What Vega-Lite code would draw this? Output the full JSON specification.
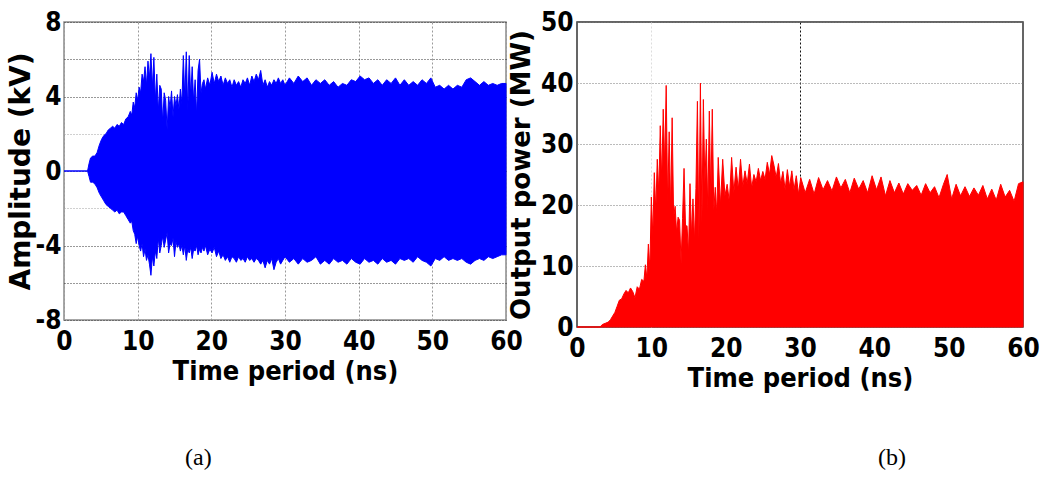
{
  "$schema": "https://vega.github.io/schema/vega-lite/v6.json",
  "background": "white",
  "padding": {"left": 6, "top": 8, "right": 0, "bottom": 0},
  "bounds": "flush",
  "spacing": 71,
  "config": {
    "axis": {
      "labelFont": "DejaVu Sans Condensed",
      "labelFontWeight": "bold",
      "labelFontSize": 26,
      "labelColor": "black",
      "titleColor": "black",
      "ticks": false,
      "domain": false,
      "labelFlush": false,
      "labelOverlap": false
    }
  },
  "datasets": {
    "amp": [
      {"t": 0, "hi": 0, "lo": 0}, {"t": 3.2, "hi": 0, "lo": 0},
      {"t": 3.4, "hi": 0.4, "lo": -0.3}, {"t": 3.6, "hi": 0.7, "lo": -0.6}, {"t": 3.9, "hi": 0.8, "lo": -0.6},
      {"t": 4.2, "hi": 0.8, "lo": -0.7}, {"t": 4.5, "hi": 1.0, "lo": -0.9}, {"t": 4.8, "hi": 1.4, "lo": -1.2},
      {"t": 5.1, "hi": 1.7, "lo": -1.4}, {"t": 5.4, "hi": 1.9, "lo": -1.6}, {"t": 5.7, "hi": 2.0, "lo": -1.8},
      {"t": 6.0, "hi": 2.2, "lo": -1.9}, {"t": 6.3, "hi": 2.3, "lo": -2.0}, {"t": 6.6, "hi": 2.4, "lo": -2.1},
      {"t": 6.9, "hi": 2.3, "lo": -2.2}, {"t": 7.2, "hi": 2.5, "lo": -2.1}, {"t": 7.5, "hi": 2.4, "lo": -2.3},
      {"t": 7.8, "hi": 2.6, "lo": -2.2}, {"t": 8.1, "hi": 2.5, "lo": -2.2}, {"t": 8.4, "hi": 2.8, "lo": -2.4},
      {"t": 8.7, "hi": 2.9, "lo": -2.6}, {"t": 9.0, "hi": 3.2, "lo": -2.8}, {"t": 9.2, "hi": 3.0, "lo": -2.7},
      {"t": 9.4, "hi": 3.7, "lo": -3.2}, {"t": 9.6, "hi": 3.4, "lo": -3.4}, {"t": 9.8, "hi": 4.2, "lo": -3.9},
      {"t": 10.0, "hi": 3.8, "lo": -3.5}, {"t": 10.2, "hi": 4.5, "lo": -4.0}, {"t": 10.4, "hi": 4.2, "lo": -4.3},
      {"t": 10.6, "hi": 5.2, "lo": -3.9}, {"t": 10.8, "hi": 4.8, "lo": -4.6}, {"t": 11.0, "hi": 5.6, "lo": -4.2},
      {"t": 11.2, "hi": 4.6, "lo": -4.8}, {"t": 11.4, "hi": 5.9, "lo": -4.5}, {"t": 11.6, "hi": 5.0, "lo": -5.0},
      {"t": 11.8, "hi": 6.3, "lo": -5.6}, {"t": 12.0, "hi": 4.5, "lo": -4.6}, {"t": 12.2, "hi": 6.1, "lo": -5.1},
      {"t": 12.4, "hi": 3.8, "lo": -4.3}, {"t": 12.6, "hi": 5.2, "lo": -4.7}, {"t": 12.8, "hi": 3.2, "lo": -3.6},
      {"t": 13.0, "hi": 4.6, "lo": -4.4}, {"t": 13.2, "hi": 4.4, "lo": -4.0}, {"t": 13.4, "hi": 2.6, "lo": -3.5},
      {"t": 13.6, "hi": 4.2, "lo": -4.1}, {"t": 13.8, "hi": 3.8, "lo": -3.7}, {"t": 14.0, "hi": 2.2, "lo": -3.3},
      {"t": 14.2, "hi": 4.0, "lo": -4.4}, {"t": 14.4, "hi": 3.4, "lo": -3.9}, {"t": 14.6, "hi": 4.3, "lo": -4.0},
      {"t": 14.8, "hi": 2.9, "lo": -3.6}, {"t": 15.0, "hi": 4.0, "lo": -4.6}, {"t": 15.2, "hi": 3.5, "lo": -3.8},
      {"t": 15.4, "hi": 4.1, "lo": -4.1}, {"t": 15.6, "hi": 3.3, "lo": -3.9}, {"t": 15.8, "hi": 4.4, "lo": -4.3},
      {"t": 16.0, "hi": 3.6, "lo": -4.0}, {"t": 16.2, "hi": 6.2, "lo": -4.5}, {"t": 16.4, "hi": 3.9, "lo": -4.0},
      {"t": 16.6, "hi": 6.4, "lo": -4.8}, {"t": 16.8, "hi": 3.2, "lo": -4.2}, {"t": 17.0, "hi": 6.2, "lo": -4.4},
      {"t": 17.2, "hi": 4.0, "lo": -4.1}, {"t": 17.4, "hi": 5.6, "lo": -4.7}, {"t": 17.6, "hi": 3.7, "lo": -4.2},
      {"t": 17.8, "hi": 4.9, "lo": -4.3}, {"t": 18.0, "hi": 3.0, "lo": -4.0}, {"t": 18.2, "hi": 5.4, "lo": -4.5},
      {"t": 18.4, "hi": 6.0, "lo": -4.2}, {"t": 18.6, "hi": 4.2, "lo": -4.4}, {"t": 18.8, "hi": 4.7, "lo": -4.1},
      {"t": 19.0, "hi": 4.9, "lo": -4.3}, {"t": 19.2, "hi": 4.4, "lo": -4.0}, {"t": 19.5, "hi": 5.0, "lo": -4.5},
      {"t": 19.8, "hi": 4.6, "lo": -4.2}, {"t": 20.1, "hi": 5.3, "lo": -4.4}, {"t": 20.4, "hi": 4.7, "lo": -4.1},
      {"t": 20.7, "hi": 5.2, "lo": -4.6}, {"t": 21.0, "hi": 4.8, "lo": -4.3}, {"t": 21.3, "hi": 5.1, "lo": -4.7},
      {"t": 21.6, "hi": 4.6, "lo": -4.5}, {"t": 21.9, "hi": 5.0, "lo": -4.8}, {"t": 22.2, "hi": 4.7, "lo": -4.6},
      {"t": 22.5, "hi": 4.9, "lo": -4.9}, {"t": 22.8, "hi": 4.5, "lo": -4.6}, {"t": 23.1, "hi": 4.9, "lo": -4.7},
      {"t": 23.4, "hi": 4.6, "lo": -4.9}, {"t": 23.7, "hi": 4.8, "lo": -4.6}, {"t": 24.0, "hi": 4.5, "lo": -4.8},
      {"t": 24.3, "hi": 4.9, "lo": -4.7}, {"t": 24.6, "hi": 4.7, "lo": -4.9}, {"t": 24.9, "hi": 5.0, "lo": -4.6},
      {"t": 25.2, "hi": 4.6, "lo": -4.8}, {"t": 25.5, "hi": 5.1, "lo": -4.7}, {"t": 25.8, "hi": 4.8, "lo": -4.9},
      {"t": 26.1, "hi": 5.2, "lo": -4.7}, {"t": 26.4, "hi": 4.9, "lo": -4.8}, {"t": 26.7, "hi": 5.4, "lo": -5.0},
      {"t": 27.0, "hi": 4.6, "lo": -4.8}, {"t": 27.3, "hi": 4.9, "lo": -5.2}, {"t": 27.6, "hi": 4.5, "lo": -4.8},
      {"t": 27.9, "hi": 4.8, "lo": -5.0}, {"t": 28.2, "hi": 4.6, "lo": -4.7}, {"t": 28.5, "hi": 4.9, "lo": -5.3},
      {"t": 28.8, "hi": 4.7, "lo": -4.9}, {"t": 29.1, "hi": 5.0, "lo": -4.7}, {"t": 29.4, "hi": 4.7, "lo": -5.0},
      {"t": 29.7, "hi": 4.9, "lo": -4.8}, {"t": 30.0, "hi": 4.6, "lo": -4.6}, {"t": 30.6, "hi": 5.0, "lo": -4.9},
      {"t": 31.2, "hi": 4.7, "lo": -4.7}, {"t": 31.8, "hi": 5.1, "lo": -5.0}, {"t": 32.4, "hi": 4.8, "lo": -4.7},
      {"t": 33.0, "hi": 5.0, "lo": -4.9}, {"t": 33.6, "hi": 4.6, "lo": -4.8}, {"t": 34.2, "hi": 4.9, "lo": -4.6},
      {"t": 34.8, "hi": 4.7, "lo": -5.0}, {"t": 35.4, "hi": 4.9, "lo": -4.8}, {"t": 36.0, "hi": 4.6, "lo": -5.0},
      {"t": 36.6, "hi": 4.8, "lo": -4.7}, {"t": 37.2, "hi": 4.5, "lo": -4.9}, {"t": 37.8, "hi": 4.7, "lo": -4.8},
      {"t": 38.4, "hi": 4.6, "lo": -5.0}, {"t": 39.0, "hi": 4.9, "lo": -4.7}, {"t": 39.6, "hi": 4.8, "lo": -4.9},
      {"t": 40.2, "hi": 5.1, "lo": -5.0}, {"t": 40.8, "hi": 4.9, "lo": -4.7}, {"t": 41.4, "hi": 5.0, "lo": -4.9},
      {"t": 42.0, "hi": 4.7, "lo": -4.8}, {"t": 42.6, "hi": 4.9, "lo": -5.0}, {"t": 43.2, "hi": 4.6, "lo": -4.7},
      {"t": 43.8, "hi": 4.9, "lo": -4.9}, {"t": 44.4, "hi": 4.7, "lo": -4.8}, {"t": 45.0, "hi": 5.0, "lo": -5.0},
      {"t": 45.6, "hi": 4.6, "lo": -4.7}, {"t": 46.2, "hi": 4.9, "lo": -4.8}, {"t": 46.8, "hi": 4.6, "lo": -4.7},
      {"t": 47.4, "hi": 4.8, "lo": -4.9}, {"t": 48.0, "hi": 4.6, "lo": -4.6}, {"t": 48.6, "hi": 4.9, "lo": -4.8},
      {"t": 49.2, "hi": 4.7, "lo": -4.9}, {"t": 49.8, "hi": 5.0, "lo": -5.1}, {"t": 50.4, "hi": 4.5, "lo": -4.7},
      {"t": 51.0, "hi": 4.6, "lo": -4.8}, {"t": 51.6, "hi": 4.4, "lo": -4.6}, {"t": 52.2, "hi": 4.6, "lo": -4.8},
      {"t": 52.8, "hi": 4.4, "lo": -4.7}, {"t": 53.4, "hi": 4.6, "lo": -4.8}, {"t": 54.0, "hi": 4.5, "lo": -4.7},
      {"t": 54.6, "hi": 4.9, "lo": -4.9}, {"t": 55.2, "hi": 5.0, "lo": -5.0}, {"t": 55.8, "hi": 4.8, "lo": -4.8},
      {"t": 56.4, "hi": 4.6, "lo": -4.7}, {"t": 57.0, "hi": 4.8, "lo": -4.8}, {"t": 57.6, "hi": 4.6, "lo": -4.6},
      {"t": 58.2, "hi": 4.7, "lo": -4.7}, {"t": 58.8, "hi": 4.6, "lo": -4.6}, {"t": 59.4, "hi": 4.7, "lo": -4.5},
      {"t": 60.0, "hi": 4.7, "lo": -4.5}
    ],
    "pow": [
      {"t": 0, "p": 0}, {"t": 3.1, "p": 0}, {"t": 3.4, "p": 0.4}, {"t": 3.8, "p": 0.6}, {"t": 4.2, "p": 0.8},
      {"t": 4.5, "p": 1.2}, {"t": 4.8, "p": 1.8}, {"t": 5.1, "p": 2.4}, {"t": 5.4, "p": 3.4}, {"t": 5.7, "p": 4.4},
      {"t": 6.0, "p": 4.6}, {"t": 6.3, "p": 5.4}, {"t": 6.6, "p": 6.0}, {"t": 6.9, "p": 5.6}, {"t": 7.2, "p": 6.4},
      {"t": 7.5, "p": 5.8}, {"t": 7.8, "p": 4.8}, {"t": 8.1, "p": 6.6}, {"t": 8.4, "p": 6.2}, {"t": 8.7, "p": 7.8},
      {"t": 9.0, "p": 7.5}, {"t": 9.2, "p": 10.2}, {"t": 9.4, "p": 8.0}, {"t": 9.6, "p": 13.6}, {"t": 9.8, "p": 9.5},
      {"t": 10.0, "p": 21.3}, {"t": 10.2, "p": 15.0}, {"t": 10.4, "p": 25.3}, {"t": 10.6, "p": 19.0}, {"t": 10.8, "p": 27.5},
      {"t": 11.0, "p": 22.0}, {"t": 11.2, "p": 33.0}, {"t": 11.4, "p": 24.0}, {"t": 11.6, "p": 35.7}, {"t": 11.8, "p": 26.5},
      {"t": 12.0, "p": 39.6}, {"t": 12.2, "p": 20.0}, {"t": 12.4, "p": 32.0}, {"t": 12.6, "p": 19.0}, {"t": 12.8, "p": 34.3},
      {"t": 13.0, "p": 18.0}, {"t": 13.2, "p": 19.8}, {"t": 13.4, "p": 15.5}, {"t": 13.6, "p": 18.0}, {"t": 13.8, "p": 17.5},
      {"t": 14.0, "p": 10.5}, {"t": 14.2, "p": 17.8}, {"t": 14.4, "p": 26.0}, {"t": 14.6, "p": 16.5}, {"t": 14.8, "p": 16.6},
      {"t": 15.0, "p": 12.0}, {"t": 15.2, "p": 23.5}, {"t": 15.4, "p": 15.0}, {"t": 15.6, "p": 21.0}, {"t": 15.8, "p": 14.0},
      {"t": 16.0, "p": 22.7}, {"t": 16.2, "p": 37.0}, {"t": 16.4, "p": 14.5}, {"t": 16.6, "p": 40.0}, {"t": 16.8, "p": 17.0},
      {"t": 17.0, "p": 37.3}, {"t": 17.2, "p": 23.4}, {"t": 17.4, "p": 30.8}, {"t": 17.6, "p": 19.0}, {"t": 17.8, "p": 35.4},
      {"t": 18.0, "p": 21.0}, {"t": 18.2, "p": 35.7}, {"t": 18.4, "p": 19.0}, {"t": 18.6, "p": 22.9}, {"t": 18.8, "p": 18.5},
      {"t": 19.0, "p": 27.8}, {"t": 19.3, "p": 20.0}, {"t": 19.6, "p": 27.5}, {"t": 19.9, "p": 21.5}, {"t": 20.2, "p": 23.4},
      {"t": 20.5, "p": 20.5}, {"t": 20.8, "p": 27.8}, {"t": 21.1, "p": 22.0}, {"t": 21.4, "p": 26.2}, {"t": 21.7, "p": 22.5},
      {"t": 22.0, "p": 27.5}, {"t": 22.3, "p": 23.0}, {"t": 22.6, "p": 25.6}, {"t": 22.9, "p": 23.5}, {"t": 23.2, "p": 26.7},
      {"t": 23.5, "p": 22.8}, {"t": 23.8, "p": 25.0}, {"t": 24.1, "p": 23.8}, {"t": 24.4, "p": 26.0}, {"t": 24.7, "p": 24.0},
      {"t": 25.0, "p": 25.5}, {"t": 25.3, "p": 24.2}, {"t": 25.6, "p": 27.0}, {"t": 25.9, "p": 25.0}, {"t": 26.2, "p": 28.1},
      {"t": 26.5, "p": 26.5}, {"t": 26.8, "p": 24.5}, {"t": 27.1, "p": 26.8}, {"t": 27.4, "p": 23.5}, {"t": 27.7, "p": 25.5},
      {"t": 28.0, "p": 22.5}, {"t": 28.3, "p": 25.8}, {"t": 28.6, "p": 23.0}, {"t": 28.9, "p": 25.6}, {"t": 29.2, "p": 22.5},
      {"t": 29.5, "p": 24.8}, {"t": 29.8, "p": 21.8}, {"t": 30.1, "p": 24.5}, {"t": 30.7, "p": 22.0}, {"t": 31.3, "p": 24.2},
      {"t": 31.9, "p": 21.8}, {"t": 32.5, "p": 24.5}, {"t": 33.1, "p": 22.5}, {"t": 33.7, "p": 24.0}, {"t": 34.3, "p": 22.3},
      {"t": 34.9, "p": 24.6}, {"t": 35.5, "p": 22.8}, {"t": 36.1, "p": 24.2}, {"t": 36.7, "p": 22.0}, {"t": 37.3, "p": 24.4},
      {"t": 37.9, "p": 22.6}, {"t": 38.5, "p": 24.0}, {"t": 39.1, "p": 22.0}, {"t": 39.7, "p": 24.8}, {"t": 40.3, "p": 22.5},
      {"t": 40.9, "p": 24.6}, {"t": 41.5, "p": 21.5}, {"t": 42.1, "p": 24.0}, {"t": 42.7, "p": 22.0}, {"t": 43.3, "p": 23.6},
      {"t": 43.9, "p": 21.8}, {"t": 44.5, "p": 23.5}, {"t": 45.1, "p": 22.4}, {"t": 45.7, "p": 23.2}, {"t": 46.3, "p": 21.6},
      {"t": 46.9, "p": 23.5}, {"t": 47.5, "p": 22.0}, {"t": 48.1, "p": 23.0}, {"t": 48.7, "p": 21.2}, {"t": 49.3, "p": 23.4},
      {"t": 49.8, "p": 25.0}, {"t": 50.4, "p": 21.0}, {"t": 51.0, "p": 23.4}, {"t": 51.6, "p": 21.5}, {"t": 52.2, "p": 23.0},
      {"t": 52.8, "p": 21.4}, {"t": 53.4, "p": 22.8}, {"t": 54.0, "p": 21.6}, {"t": 54.6, "p": 23.2}, {"t": 55.2, "p": 21.0},
      {"t": 55.8, "p": 22.6}, {"t": 56.4, "p": 20.8}, {"t": 57.0, "p": 23.4}, {"t": 57.6, "p": 21.3}, {"t": 58.2, "p": 22.4},
      {"t": 58.8, "p": 20.6}, {"t": 59.4, "p": 23.5}, {"t": 60.0, "p": 23.8}
    ]
  },
  "hconcat": [
    {
      "width": 442,
      "height": 298,
      "view": {"stroke": "#8a8a8a", "strokeWidth": 1.5},
      "title": {"text": "(a)", "orient": "bottom", "anchor": "start", "frame": "group", "dx": 121, "offset": 62, "font": "Liberation Serif", "fontSize": 24, "fontWeight": "normal", "color": "black"},
      "data": {"name": "amp"},
      "mark": {"type": "area", "color": "#0000ff", "stroke": "#0000ff", "strokeWidth": 1, "opacity": 1},
      "encoding": {
        "x": {"field": "t", "type": "quantitative", "scale": {"domain": [0, 60], "nice": false},
          "axis": {"values": [0, 10, 20, 30, 40, 50, 60], "title": "Time period (ns)", "titleFont": "DejaVu Sans Condensed", "titleFontWeight": "bold", "titleFontSize": 27, "titlePadding": 4, "labelPadding": 8,
            "gridDash": [2, 2], "gridColor": "#9a9a9a", "gridWidth": 1}},
        "y": {"field": "hi", "type": "quantitative", "scale": {"domain": [-8, 8], "nice": false},
          "axis": {"values": [-8, -6, -4, -2, 0, 2, 4, 6, 8], "labelExpr": "datum.value % 4 === 0 ? replace(datum.label, '\u2212', '-') : ''", "title": "Amplitude (kV)", "titleFont": "DejaVu Sans", "titleFontWeight": "bold", "titleFontSize": 28, "titlePadding": 0, "labelPadding": 3,
            "gridDash": [1, 2], "gridWidth": 1,
            "gridColor": {"condition": {"test": "abs(datum.value) === 2", "value": "#a0a0a0"}, "value": "#333333"}}},
        "y2": {"field": "lo"}
      }
    },
    {
      "width": 446,
      "height": 305,
      "view": {"stroke": "#333333", "strokeWidth": 1.5},
      "title": {"text": "(b)", "orient": "bottom", "anchor": "start", "frame": "group", "dx": 301, "offset": 55, "font": "Liberation Serif", "fontSize": 24, "fontWeight": "normal", "color": "black"},
      "data": {"name": "pow"},
      "mark": {"type": "area", "color": "#ff0000", "stroke": "#ff0000", "strokeWidth": 1, "opacity": 1},
      "encoding": {
        "x": {"field": "t", "type": "quantitative", "scale": {"domain": [0, 60], "nice": false},
          "axis": {"values": [0, 10, 20, 30, 40, 50, 60], "title": "Time period (ns)", "titleFont": "DejaVu Sans Condensed", "titleFontWeight": "bold", "titleFontSize": 27, "titlePadding": 4, "labelPadding": 8,
            "gridDash": [2, 2], "gridWidth": 1,
            "gridColor": {"condition": {"test": "datum.value === 30", "value": "#111111"}, "value": "#dddddd"},
            "gridOpacity": {"condition": {"test": "datum.value === 30 || datum.value === 10", "value": 1}, "value": 0}}},
        "y": {"field": "p", "type": "quantitative", "scale": {"domain": [0, 50], "nice": false},
          "axis": {"values": [0, 10, 20, 30, 40, 50], "title": "Output power (MW)", "titleFont": "DejaVu Sans", "titleFontWeight": "bold", "titleFontSize": 26, "titlePadding": 6, "labelPadding": 4,
            "gridDash": [1, 2], "gridWidth": 1, "gridColor": "#777777"}}
      }
    }
  ]
}
